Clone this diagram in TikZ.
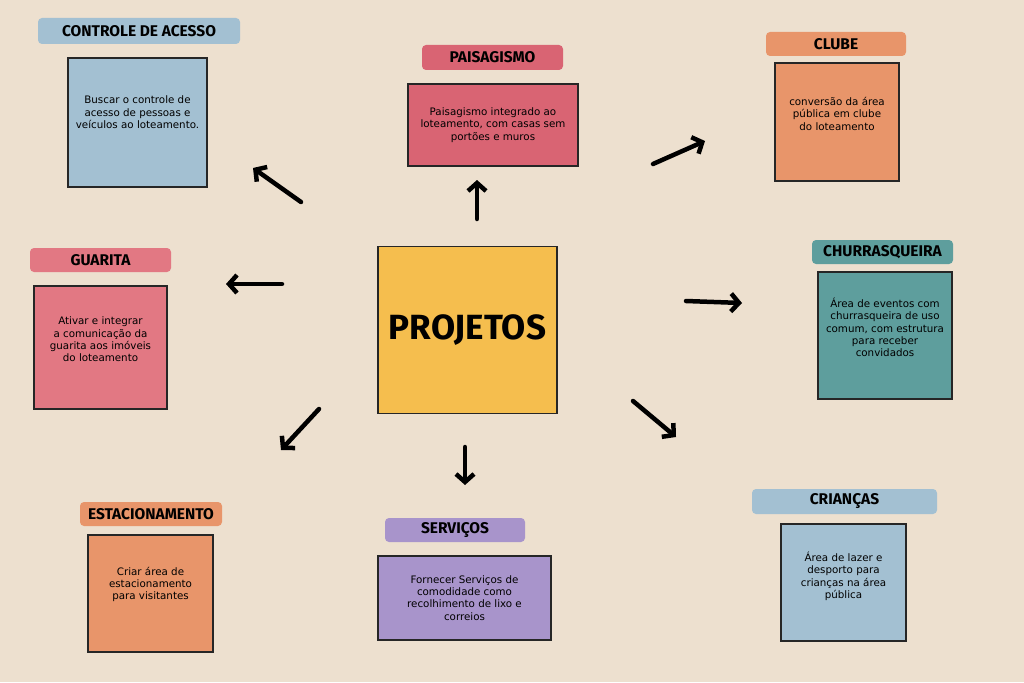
\documentclass[tikz,border=0pt]{standalone}
\usepackage{fontspec}
\setmainfont{DejaVu Sans}
\newfontfamily\titlefont{Fira Sans}
\usepackage{xcolor}
\usepackage{tikz}
\usetikzlibrary{arrows.meta}

\definecolor{bg}{HTML}{EDE0CF}
\definecolor{blue}{HTML}{A3C0D2}
\definecolor{rose}{HTML}{D96473}
\definecolor{pink}{HTML}{E27883}
\definecolor{orange}{HTML}{E8956A}
\definecolor{teal}{HTML}{5E9E9D}
\definecolor{purple}{HTML}{A894CB}
\definecolor{yellow}{HTML}{F5BE4E}

\begin{document}
\begin{tikzpicture}[x=1pt,y=-1pt,
        card/.style={draw=black!85,line width=1.6pt,align=center,inner sep=2pt,
            font=\fontsize{10.3}{12.3}\selectfont},
        tag/.style={rounded corners=4pt,inner sep=0pt,
            font=\titlefont\bfseries\fontsize{15.5}{15.5}\selectfont},
        arr/.style={line width=4.5pt,line cap=round,-{Straight Barb[length=8pt,width=18pt]}}]
    \fill[bg] (0,0) rectangle (1024,682);
    \useasboundingbox (0,0) rectangle (1024,682);

    \node[card,fill=yellow,minimum width=179pt,minimum height=167pt,
        font=\titlefont\bfseries\fontsize{35}{35}\selectfont] (proj) at (467.5,330) {PROJETOS};

    \node[tag,fill=blue,minimum width=202pt,minimum height=26pt] (ctrltag) at (139,31) {CONTROLE DE ACESSO};
    \node[card,fill=blue,minimum width=139pt,minimum height=129pt] (ctrl) at (137.5,122.5)
        {Buscar o controle de\\acesso de pessoas e\\veículos ao loteamento.\\[8pt]};

    \node[tag,fill=rose,minimum width=141pt,minimum height=25pt] (paisagtag) at (492.5,57.5) {PAISAGISMO};
    \node[card,fill=rose,minimum width=170pt,minimum height=82pt] (paisag) at (493,125)
        {Paisagismo integrado ao\\loteamento, com casas sem\\portões e muros};

    \node[tag,fill=orange,minimum width=140pt,minimum height=24pt] (clubetag) at (836,44) {CLUBE};
    \node[card,fill=orange,minimum width=124pt,minimum height=118pt] (clube) at (837,122)
        {conversão da área\\pública em clube\\do loteamento\\[4pt]};

    \node[tag,fill=teal,minimum width=141pt,minimum height=24pt] (churrastag) at (882.5,252) {CHURRASQUEIRA};
    \node[card,fill=teal,minimum width=134pt,minimum height=127pt] (churras) at (885,335.5)
        {Área de eventos com\\churrasqueira de uso\\comum, com estrutura\\para receber\\convidados\\[4pt]};

    \node[tag,fill=blue,minimum width=185pt,minimum height=25pt] (criancastag) at (844.5,501.5) {CRIANÇAS};
    \node[card,fill=blue,minimum width=125pt,minimum height=117pt] (criancas) at (843.5,582.5)
        {Área de lazer e\\desporto para\\crianças na área\\pública\\[2pt]};

    \node[tag,fill=purple,minimum width=140pt,minimum height=24pt] (servicostag) at (455,530) {SERVIÇOS};
    \node[card,fill=purple,minimum width=173pt,minimum height=84pt] (servicos) at (464.5,598)
        {Fornecer Serviços de\\comodidade como\\recolhimento de lixo e\\correios};

    \node[tag,fill=orange,minimum width=142pt,minimum height=24pt] (estactag) at (151,514) {ESTACIONAMENTO};
    \node[card,fill=orange,minimum width=125pt,minimum height=117pt] (estac) at (150.5,593.5)
        {Criar área de\\estacionamento\\para visitantes\\[8pt]};

    \node[tag,fill=pink,minimum width=141pt,minimum height=24pt] (guaritatag) at (100.5,260) {GUARITA};
    \node[card,fill=pink,minimum width=133pt,minimum height=123pt] (guarita) at (100.5,347.5)
        {Ativar e integrar\\a comunicação da\\guarita aos imóveis\\do loteamento\\[4pt]};

    \coordinate (ctrl-from) at (301,202);     \coordinate (ctrl-to) at (253,168);
    \coordinate (paisag-from) at (477,219);   \coordinate (paisag-to) at (477,180);
    \coordinate (clube-from) at (653,164);    \coordinate (clube-to) at (705,141);
    \coordinate (churras-from) at (686,301);  \coordinate (churras-to) at (742,303);
    \coordinate (criancas-from) at (633,401); \coordinate (criancas-to) at (676,437);
    \coordinate (servicos-from) at (465,447); \coordinate (servicos-to) at (465,485);
    \coordinate (estac-from) at (319,409);    \coordinate (estac-to) at (281,450);
    \coordinate (guarita-from) at (282,284);  \coordinate (guarita-to) at (226,284);

    \foreach \t in {ctrl,paisag,clube,churras,criancas,servicos,estac,guarita}
        \draw[arr] (\t-from) -- (\t-to);
\end{tikzpicture}
\end{document}
